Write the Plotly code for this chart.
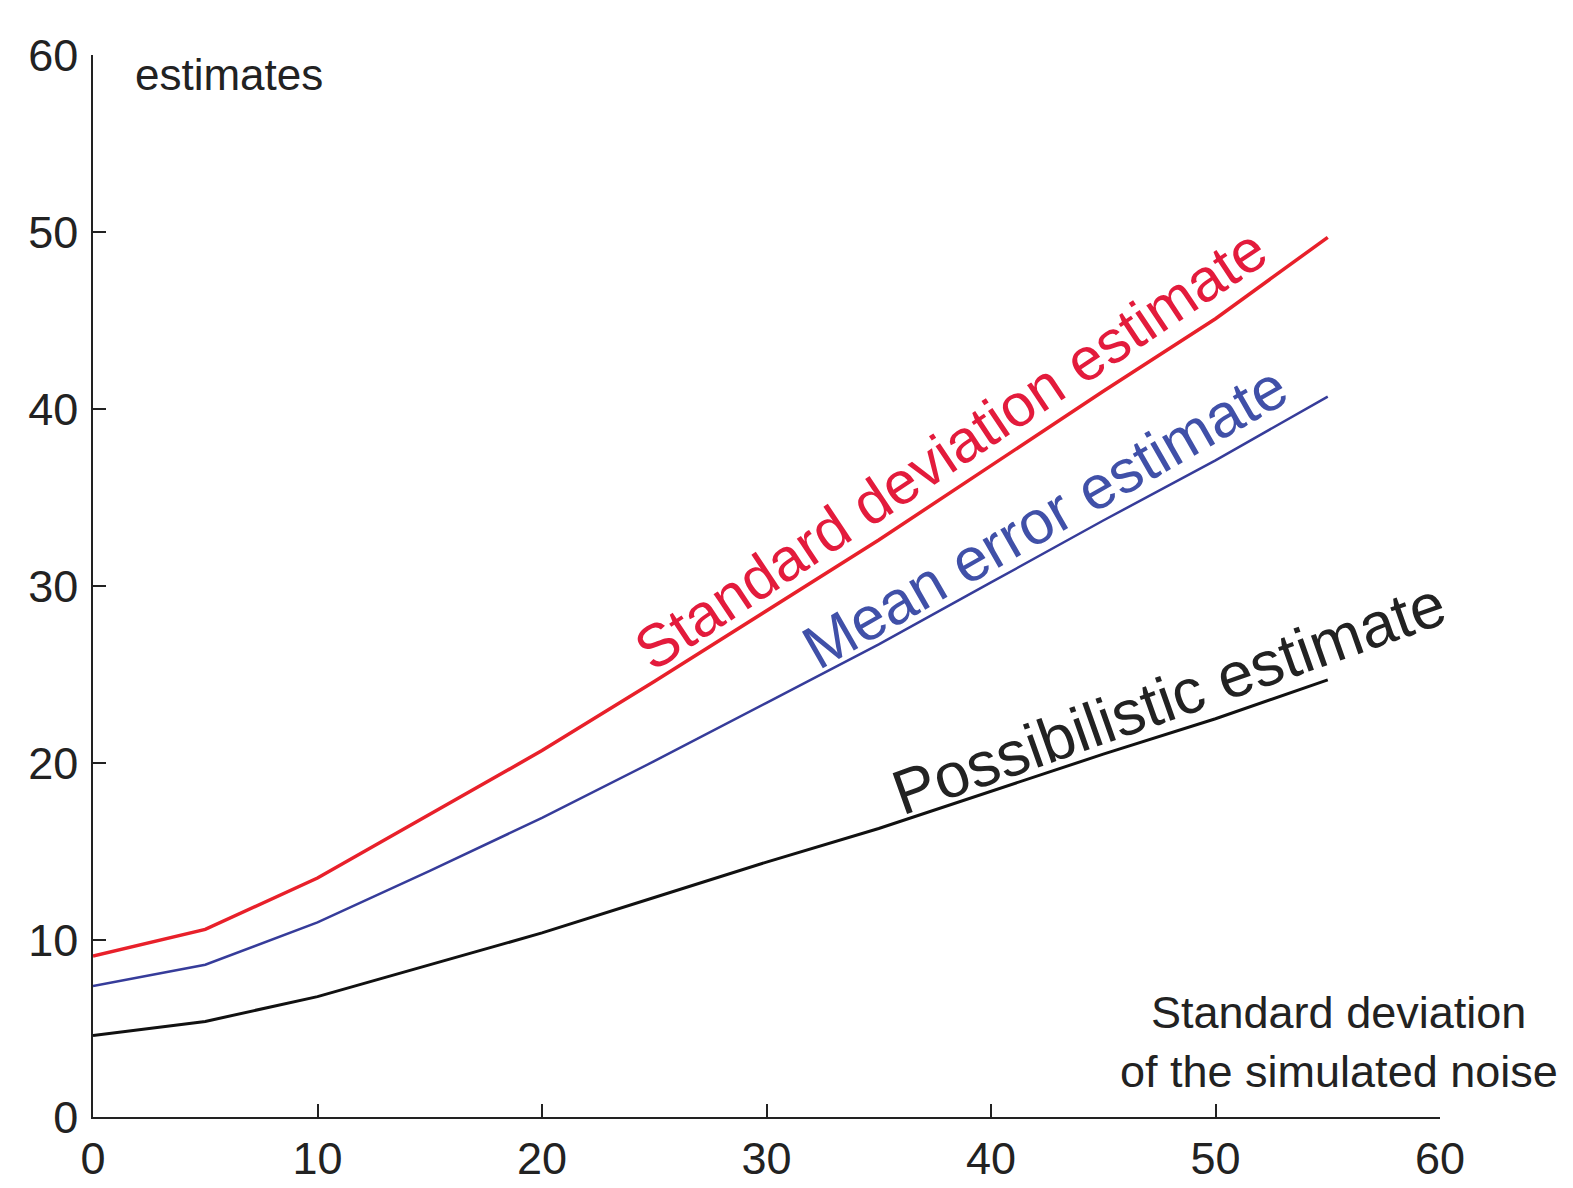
import plotly.graph_objects as go

noise_sd = [0, 5, 10, 15, 20, 25, 30, 35, 40, 45, 50, 55]
std_dev_est = [9.1, 10.6, 13.5, 17.1, 20.7, 24.6, 28.6, 32.6, 36.8, 41.0, 45.1, 49.7]
mean_err_est = [7.4, 8.6, 11.0, 13.9, 16.9, 20.1, 23.4, 26.7, 30.2, 33.7, 37.1, 40.7]
possib_est = [4.6, 5.4, 6.8, 8.6, 10.4, 12.4, 14.4, 16.3, 18.4, 20.5, 22.5, 24.7]
tick_vals = [0, 10, 20, 30, 40, 50, 60]

FONT = "Liberation Sans Narrow, Liberation Sans, Arial, sans-serif"
TFONT = "Liberation Sans, Arial, sans-serif"

fig = go.Figure()
fig.add_trace(go.Scatter(x=noise_sd, y=std_dev_est, mode="lines",
                         line=dict(color="#e8202a", width=3.5), showlegend=False))
fig.add_trace(go.Scatter(x=noise_sd, y=mean_err_est, mode="lines",
                         line=dict(color="#363c9a", width=2.5), showlegend=False))
fig.add_trace(go.Scatter(x=noise_sd, y=possib_est, mode="lines",
                         line=dict(color="#111111", width=3), showlegend=False))

axis_common = dict(
    range=[0, 60], tickvals=tick_vals, ticks="inside", ticklen=13, tickwidth=1.5,
    tickcolor="#222", showline=True, linecolor="#222", linewidth=1.5,
    showgrid=False, zeroline=False, automargin=False,
    tickfont=dict(family=FONT, size=45, color="#222"),
)
fig.update_xaxes(**axis_common, ticklabelstandoff=1)
fig.update_yaxes(**axis_common, ticklabelstandoff=4)

annos = [
    dict(x=1.8, y=58.9, text="estimates", xanchor="left", yanchor="middle",
         font=dict(family=TFONT, size=44, color="#222")),
    dict(x=55.5, y=5.9, text="Standard deviation", xanchor="center", yanchor="middle",
         font=dict(family=TFONT, size=45, color="#222")),
    dict(x=55.5, y=2.55, text="of the simulated noise", xanchor="center", yanchor="middle",
         font=dict(family=TFONT, size=45, color="#222")),
    dict(x=38.2, y=37.7, text="Standard deviation estimate", textangle=-33.7,
         xanchor="center", yanchor="middle",
         font=dict(family=TFONT, size=60, color="#e31b3c")),
    dict(x=42.4, y=33.9, text="Mean error estimate", textangle=-29.8,
         xanchor="center", yanchor="middle",
         font=dict(family=TFONT, size=61, color="#4050a8")),
    dict(x=47.9, y=23.7, text="Possibilistic estimate", textangle=-19.5,
         xanchor="center", yanchor="middle",
         font=dict(family=TFONT, size=63, color="#222")),
]
for a in annos:
    a.update(xref="x", yref="y", showarrow=False)
    fig.add_annotation(**a)

fig.update_layout(
    width=1573, height=1188,
    margin=dict(l=93, r=133, t=55, b=71),
    paper_bgcolor="white", plot_bgcolor="white",
)
fig.write_html("out.html")
